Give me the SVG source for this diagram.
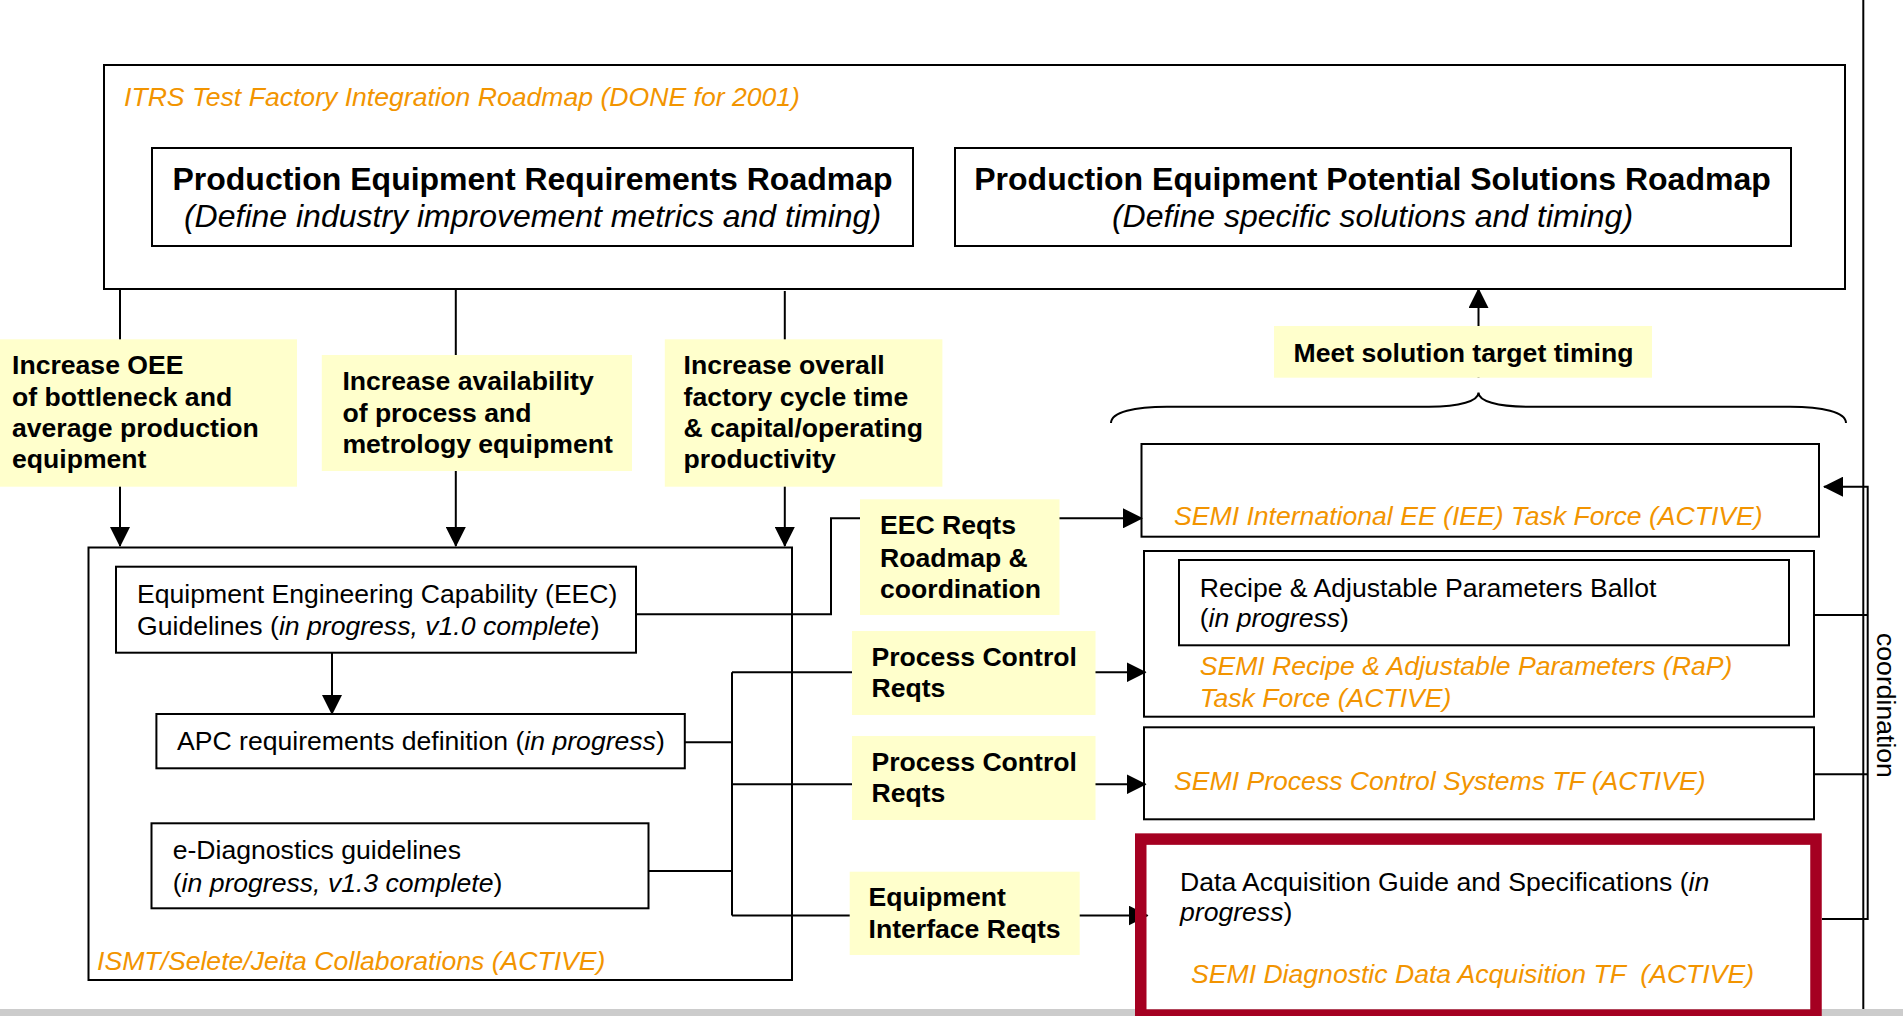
<svg xmlns="http://www.w3.org/2000/svg" width="1903" height="1016" viewBox="0 0 1903 1016">
<defs>
<style>
text{font-family:"Liberation Sans",Arial,sans-serif;font-size:26.6px;fill:#000}
.or{fill:#F29400;font-style:italic}
.it{font-style:italic}
.b{font-weight:bold}
.t{font-weight:bold;font-size:32px}
.st{font-style:italic;font-size:32px}
.box{fill:none;stroke:#000;stroke-width:2}
.yl{fill:#FFFFCC}
.ln{fill:none;stroke:#000;stroke-width:2}
</style>
<marker id="ah" markerUnits="userSpaceOnUse" markerWidth="20" markerHeight="20" refX="19" refY="10" orient="auto">
<path d="M0,0 L20,10 L0,20 z" fill="#000"/>
</marker>
</defs>
<rect x="0" y="0" width="1903" height="1016" fill="#fff"/>
<rect x="0" y="1009" width="1903" height="7" fill="#CCCCCC"/>

<g id="connectors">
<path class="ln" d="M120,289 V546" marker-end="url(#ah)"/>
<path class="ln" d="M455.8,289 V546" marker-end="url(#ah)"/>
<path class="ln" d="M784.8,291 V546" marker-end="url(#ah)"/>
<path class="ln" d="M636,614.3 H831 V518.3 H1142" marker-end="url(#ah)"/>
<path class="ln" d="M332,652.7 V714" marker-end="url(#ah)"/>
<path class="ln" d="M684.8,742.3 H732"/>
<path class="ln" d="M648.5,871 H732"/>
<path class="ln" d="M732,672.3 V915.5"/>
<path class="ln" d="M732,672.3 H1145.5" marker-end="url(#ah)"/>
<path class="ln" d="M732,784.3 H1145.5" marker-end="url(#ah)"/>
<path class="ln" d="M732,915.5 H1147.5" marker-end="url(#ah)"/>
<path class="ln" d="M1478.5,377.7 V289" marker-end="url(#ah)"/>
<path class="ln" d="M1111,423 C1111,412 1135,406.7 1167,406.7 L1429,406.7 C1460,406.7 1478.5,401 1478.5,392.5 C1478.5,401 1497,406.7 1528,406.7 L1790,406.7 C1822,406.7 1846,412 1846,423"/>
<path class="ln" d="M1814,615 H1867.7"/>
<path class="ln" d="M1814,774.3 H1867.7"/>
<path class="ln" d="M1822,919 H1867.7 V486.7 H1824" marker-end="url(#ah)"/>
<path class="ln" d="M1863.3,0 V1009"/>
</g>

<g id="itrs">
<rect class="box" x="104" y="65" width="1741" height="224" stroke-width="2.5"/>
<text class="or" x="124" y="106">ITRS Test Factory Integration Roadmap (DONE for 2001)</text>
</g>
<g id="req-roadmap">
<rect class="box" x="152" y="148" width="761" height="98"/>
<text class="t" x="532.5" y="190" text-anchor="middle">Production Equipment Requirements Roadmap</text>
<text class="st" x="532.5" y="227" text-anchor="middle">(Define industry improvement metrics and timing)</text>
</g>
<g id="sol-roadmap">
<rect class="box" x="955" y="148" width="836" height="98"/>
<text class="t" x="1372.5" y="190" text-anchor="middle">Production Equipment Potential Solutions Roadmap</text>
<text class="st" x="1372.5" y="227" text-anchor="middle">(Define specific solutions and timing)</text>
</g>

<g id="lbl-oee">
<rect class="yl" x="0" y="339.3" width="297" height="147.4"/>
<text class="b" x="12" y="374.3">Increase OEE</text>
<text class="b" x="12" y="405.5">of bottleneck and</text>
<text class="b" x="12" y="436.7">average production</text>
<text class="b" x="12" y="468">equipment</text>
</g>
<g id="lbl-avail">
<rect class="yl" x="321.8" y="355" width="310.2" height="116"/>
<text class="b" x="342.4" y="390">Increase availability</text>
<text class="b" x="342.4" y="421.5">of process and</text>
<text class="b" x="342.4" y="453">metrology equipment</text>
</g>
<g id="lbl-cycle">
<rect class="yl" x="664.8" y="339.3" width="277.6" height="147.4"/>
<text class="b" x="683.6" y="374.3">Increase overall</text>
<text class="b" x="683.6" y="405.5">factory cycle time</text>
<text class="b" x="683.6" y="436.7">&amp; capital/operating</text>
<text class="b" x="683.6" y="468">productivity</text>
</g>
<g id="lbl-meet">
<rect class="yl" x="1274" y="326" width="378" height="51.7"/>
<text class="b" x="1293.6" y="361.7">Meet solution target timing</text>
</g>
<g id="lbl-eec">
<rect class="yl" x="860" y="499.3" width="199.5" height="115.7"/>
<text class="b" x="880" y="534">EEC Reqts</text>
<text class="b" x="880" y="566.7">Roadmap &amp;</text>
<text class="b" x="880" y="598.3">coordination</text>
</g>
<g id="lbl-pc1">
<rect class="yl" x="852" y="631" width="243.5" height="84"/>
<text class="b" x="871.5" y="666">Process Control</text>
<text class="b" x="871.5" y="696.7">Reqts</text>
</g>
<g id="lbl-pc2">
<rect class="yl" x="852" y="736" width="243.5" height="84"/>
<text class="b" x="871.5" y="771">Process Control</text>
<text class="b" x="871.5" y="801.7">Reqts</text>
</g>
<g id="lbl-ei">
<rect class="yl" x="849.7" y="871.7" width="230" height="83.3"/>
<text class="b" x="868.5" y="905.7">Equipment</text>
<text class="b" x="868.5" y="938.3">Interface Reqts</text>
</g>

<g id="ismt">
<rect class="box" x="88.5" y="547.5" width="703.5" height="432.5"/>
<text class="or" x="97" y="970">ISMT/Selete/Jeita Collaborations (ACTIVE)</text>
</g>
<g id="eec">
<rect class="box" x="116" y="566.7" width="520" height="86"/>
<text x="137" y="603.3">Equipment Engineering Capability (EEC)</text>
<text x="137" y="635">Guidelines (<tspan class="it">in progress, v1.0 complete</tspan>)</text>
</g>
<g id="apc">
<rect class="box" x="156.4" y="714" width="528.4" height="54.3"/>
<text x="177" y="750">APC requirements definition (<tspan class="it">in progress</tspan>)</text>
</g>
<g id="ediag">
<rect class="box" x="151.5" y="823.3" width="497" height="85"/>
<text x="172.7" y="859.3">e-Diagnostics guidelines</text>
<text x="172.7" y="891.7">(<tspan class="it">in progress, v1.3 complete</tspan>)</text>
</g>

<g id="iee">
<rect class="box" x="1141.5" y="444" width="677.5" height="92.7"/>
<text class="or" x="1174" y="525">SEMI International EE (IEE) Task Force (ACTIVE)</text>
</g>
<g id="rap">
<rect class="box" x="1144" y="551" width="670" height="165.7"/>
<rect class="box" x="1179" y="560" width="610" height="85.3"/>
<text x="1199.7" y="596.7">Recipe &amp; Adjustable Parameters Ballot</text>
<text x="1199.7" y="627">(<tspan class="it">in progress</tspan>)</text>
<text class="or" x="1199.7" y="675">SEMI Recipe &amp; Adjustable Parameters (RaP)</text>
<text class="or" x="1199.7" y="706.7">Task Force (ACTIVE)</text>
</g>
<g id="pcs">
<rect class="box" x="1144" y="727.3" width="670" height="92"/>
<text class="or" x="1174" y="790">SEMI Process Control Systems TF (ACTIVE)</text>
</g>
<g id="dda">
<rect x="1140.75" y="839.1" width="675.25" height="176" fill="none" stroke="#A50021" stroke-width="11.5"/>
<text x="1180" y="890.5">Data Acquisition Guide and Specifications (<tspan class="it">in</tspan></text>
<text x="1180" y="921"><tspan class="it">progress</tspan>)</text>
<text class="or" x="1191" y="983.3" style="white-space:pre">SEMI Diagnostic Data Acquisition TF  (ACTIVE)</text>
</g>
<g id="coord-label">
<text transform="translate(1877,633) rotate(90)">coordination</text>
</g>
</svg>
